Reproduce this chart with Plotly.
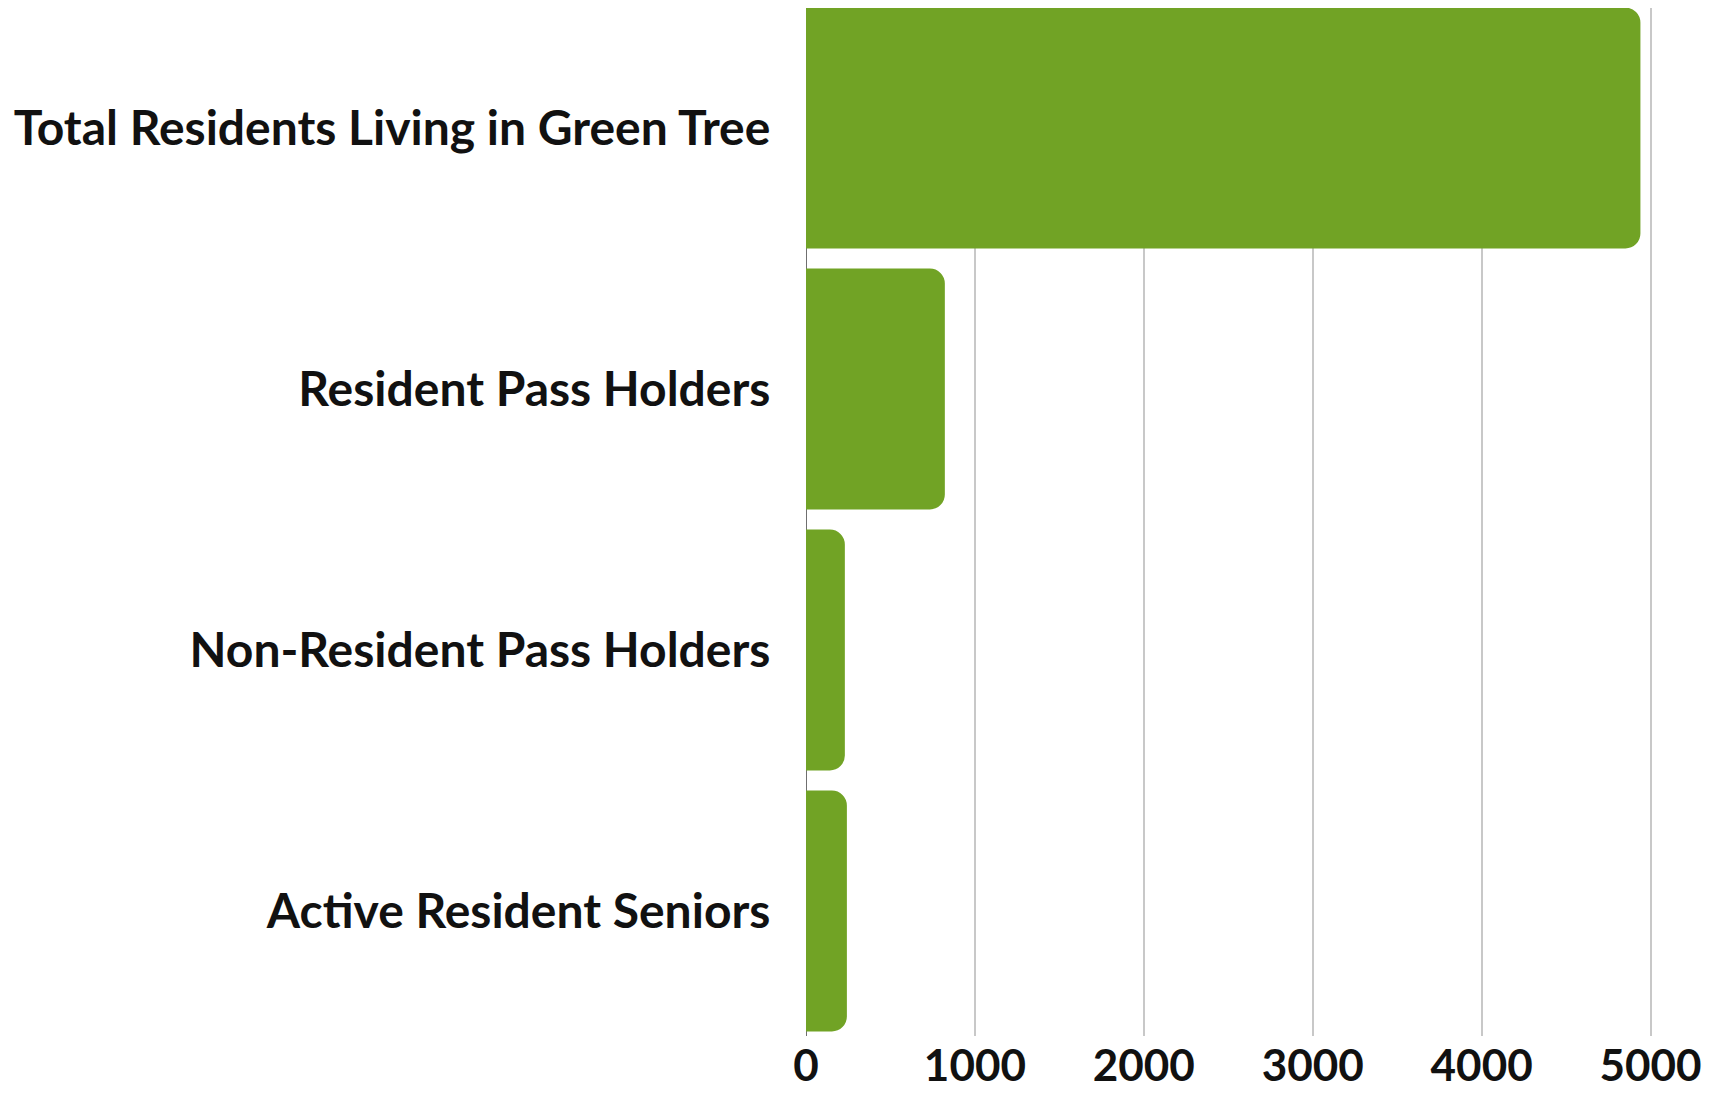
import plotly.graph_objects as go

categories = [
    "Total Residents Living in Green Tree",
    "Resident Pass Holders",
    "Non-Resident Pass Holders",
    "Active Resident Seniors",
]
values = [4940, 822, 230, 242]
tick_vals = [0, 1000, 2000, 3000, 4000, 5000]
tick_text = ["0", "1000", "2000", "3000", "4000", "5000"]

GREEN = "#71a325"
FONT = "Lato"

fig = go.Figure(
    go.Bar(
        y=categories,
        x=values,
        orientation="h",
        marker=dict(color=GREEN, line=dict(width=0), cornerradius=15),
        width=0.923,
        hoverinfo="x+y",
    )
)

fig.update_layout(
    width=1713,
    height=1094,
    margin=dict(l=798, r=62, t=0, b=66),
    paper_bgcolor="white",
    plot_bgcolor="white",
    showlegend=False,
    font=dict(family=FONT, color="#111111"),
)

fig.update_xaxes(
    range=[0, 5050],
    tickvals=tick_vals,
    ticktext=tick_text,
    showgrid=True,
    gridcolor="#c8c8c8",
    gridwidth=2,
    zeroline=True,
    zerolinecolor="#6f6f6f",
    zerolinewidth=1,
    showline=False,
    ticks="",
    tickfont=dict(family=FONT, size=44, color="#111111", weight="bold"),
)

fig.update_yaxes(
    type="category",
    range=[3.479, -0.46],
    showgrid=False,
    zeroline=False,
    showline=False,
    ticks="outside",
    ticklen=25,
    tickcolor="rgba(0,0,0,0)",
    tickfont=dict(family=FONT, size=48, color="#111111", weight="bold"),
)

fig.write_html("out.html")
